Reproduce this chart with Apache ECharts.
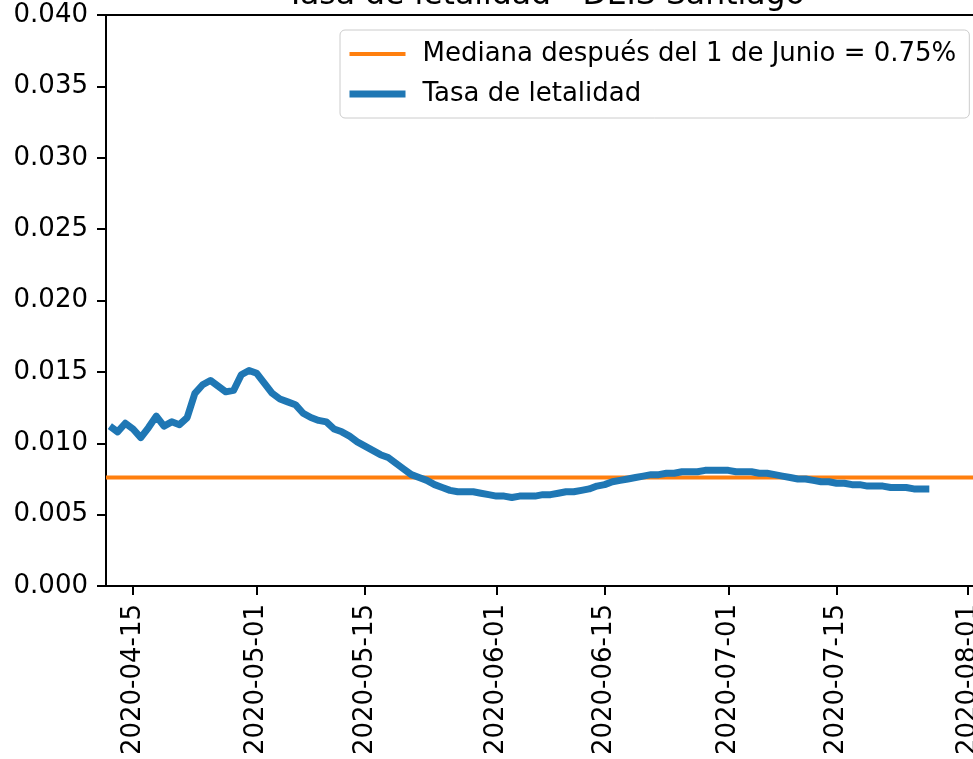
<!DOCTYPE html>
<html>
<head>
<meta charset="utf-8">
<script src="https://cdn.jsdelivr.net/npm/echarts@6/dist/echarts.min.js"></script>
<style>
html,body{margin:0;padding:0;background:#fff;}
#chart{width:973px;height:759px;}
</style>
</head>
<body>
<div id="chart"></div>
<script>
// ---- data ----
const titleText = 'Tasa de letalidad - DEIS Santiago';
const medianName = 'Mediana después del 1 de Junio = 0.75%';
const rateName = 'Tasa de letalidad';
const startDate = '2020-04-12';
const rateValues = [
  0.0112, 0.0108, 0.0114, 0.0110, 0.0104, 0.0111, 0.0119, 0.0112, 0.0115, 0.0113,
  0.0118, 0.0135, 0.0141, 0.0144, 0.0140, 0.0136, 0.0137, 0.0148, 0.0151, 0.0149,
  0.0142, 0.0135, 0.0131, 0.0129, 0.0127, 0.0121, 0.0118, 0.0116, 0.0115, 0.0110,
  0.0108, 0.0105, 0.0101, 0.0098, 0.0095, 0.0092, 0.0090, 0.0086, 0.0082, 0.0078,
  0.0076, 0.0074, 0.0071, 0.0069, 0.0067, 0.0066, 0.0066, 0.0066, 0.0065, 0.0064,
  0.0063, 0.0063, 0.0062, 0.0063, 0.0063, 0.0063, 0.0064, 0.0064, 0.0065, 0.0066,
  0.0066, 0.0067, 0.0068, 0.0070, 0.0071, 0.0073, 0.0074, 0.0075, 0.0076, 0.0077,
  0.0078, 0.0078, 0.0079, 0.0079, 0.0080, 0.0080, 0.0080, 0.0081, 0.0081, 0.0081,
  0.0081, 0.0080, 0.0080, 0.0080, 0.0079, 0.0079, 0.0078, 0.0077, 0.0076, 0.0075,
  0.0075, 0.0074, 0.0073, 0.0073, 0.0072, 0.0072, 0.0071, 0.0071, 0.0070, 0.0070,
  0.0070, 0.0069, 0.0069, 0.0069, 0.0068, 0.0068, 0.0068
];
const medianValue = 0.0076;
const xTickLabels = ['2020-04-15','2020-05-01','2020-05-15','2020-06-01','2020-06-15','2020-07-01','2020-07-15','2020-08-01'];
const xMinDate = '2020-04-11T12:00:00Z';
const xMaxDate = '2020-08-01T15:36:00Z';
const yMin = 0, yMax = 0.04, yInterval = 0.005;

// ---- build ----
const DAY = 86400000;
const t0 = Date.parse(startDate + 'T00:00:00Z');
const rateData = rateValues.map((v, i) => [t0 + i * DAY, v]);
const xMin = Date.parse(xMinDate);
const xMax = Date.parse(xMaxDate);
const medianData = [[xMin, medianValue], [xMax, medianValue]];
const tickVals = xTickLabels.map(s => Date.parse(s + 'T00:00:00Z'));
function fmtDate(v) {
  const d = new Date(v);
  const m = String(d.getUTCMonth() + 1).padStart(2, '0');
  const dd = String(d.getUTCDate()).padStart(2, '0');
  return d.getUTCFullYear() + '-' + m + '-' + dd;
}

const FONT = 'DejaVu Sans';
const chart = echarts.init(document.getElementById('chart'), null, {renderer: 'canvas'});
chart.setOption({
  animation: false,
  backgroundColor: '#ffffff',
  title: {
    text: titleText,
    left: 286,
    top: -20,
    padding: 0,
    textStyle: {fontFamily: FONT, fontSize: 31.5, fontWeight: 'normal', color: '#000'}
  },
  legend: {
    orient: 'vertical',
    left: 340,
    top: 30,
    padding: [9, 13, 9, 6],
    itemWidth: 56,
    itemHeight: 14,
    itemGap: 10,
    backgroundColor: 'rgba(255,255,255,0.8)',
    borderColor: '#cccccc',
    borderWidth: 1,
    borderRadius: 5,
    textStyle: {fontFamily: FONT, fontSize: 26, color: '#000', lineHeight: 30, padding: [0, 0, 0, 12]},
    data: [
      {name: medianName, lineStyle: {width: 4, color: '#ff7f0e'}, itemStyle: {opacity: 0}},
      {name: rateName, lineStyle: {width: 7, color: '#1f77b4'}, itemStyle: {opacity: 0}}
    ]
  },
  grid: {left: 106, right: 0, top: 15, bottom: 173, show: false, containLabel: false, outerBoundsMode: 'none'},
  xAxis: [
    {
      type: 'value',
      position: 'bottom',
      min: xMin,
      max: xMax,
      axisLine: {show: true, lineStyle: {color: '#000', width: 2}},
      axisTick: {show: true, customValues: tickVals, length: 9, lineStyle: {color: '#000', width: 2}},
      axisLabel: {
        customValues: tickVals,
        rotate: 90,
        margin: 18,
        fontFamily: FONT,
        fontSize: 26,
        color: '#000',
        formatter: v => fmtDate(v)
      },
      splitLine: {show: false}
    },
    {
      type: 'value',
      position: 'top',
      min: xMin,
      max: xMax,
      axisLine: {show: true, onZero: false, lineStyle: {color: '#000', width: 2}},
      axisTick: {show: false},
      axisLabel: {show: false},
      splitLine: {show: false}
    }
  ],
  yAxis: {
    type: 'value',
    min: yMin,
    max: yMax,
    interval: yInterval,
    axisLine: {show: true, lineStyle: {color: '#000', width: 2}},
    axisTick: {show: true, length: 9, lineStyle: {color: '#000', width: 2}},
    axisLabel: {margin: 18, fontFamily: FONT, fontSize: 26, color: '#000', formatter: v => v.toFixed(3)},
    splitLine: {show: false}
  },
  series: [
    {
      name: medianName,
      type: 'line',
      data: medianData,
      symbol: 'none',
      lineStyle: {color: '#ff7f0e', width: 4},
      itemStyle: {color: '#ff7f0e'},
      z: 2
    },
    {
      name: rateName,
      type: 'line',
      data: rateData,
      symbol: 'none',
      smooth: false,
      lineStyle: {color: '#1f77b4', width: 7, join: 'round', cap: 'butt'},
      itemStyle: {color: '#1f77b4'},
      z: 3
    }
  ]
});
</script>
</body>
</html>
